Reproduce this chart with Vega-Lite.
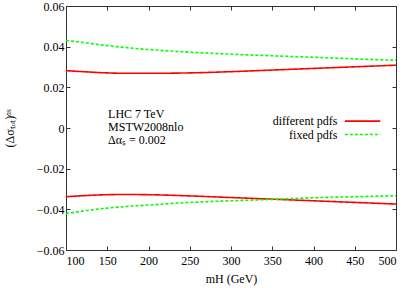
{
  "$schema": "https://vega.github.io/schema/vega-lite/v6.json",
  "width": 330,
  "height": 244,
  "autosize": {"type": "none"},
  "padding": {"left": 66, "top": 6, "right": 11, "bottom": 38},
  "background": "white",
  "config": {
    "font": "Liberation Serif",
    "view": {"stroke": "#333", "strokeWidth": 1},
    "axis": {
      "domainColor": "#333",
      "tickColor": "#333",
      "grid": false,
      "labelFont": "Liberation Serif",
      "titleFont": "Liberation Serif",
      "labelFontSize": 12,
      "titleFontSize": 12,
      "labelColor": "#000",
      "titleColor": "#000",
      "titleFontWeight": "normal",
      "tickSize": -4
    }
  },
  "datasets": {
    "curves": [
      {"curve": "red_up", "type": "different pdfs", "mH": 100, "v": 0.0282},
      {"curve": "red_up", "type": "different pdfs", "mH": 125, "v": 0.0276},
      {"curve": "red_up", "type": "different pdfs", "mH": 150, "v": 0.0271},
      {"curve": "red_up", "type": "different pdfs", "mH": 175, "v": 0.0269},
      {"curve": "red_up", "type": "different pdfs", "mH": 200, "v": 0.0269},
      {"curve": "red_up", "type": "different pdfs", "mH": 250, "v": 0.0271},
      {"curve": "red_up", "type": "different pdfs", "mH": 300, "v": 0.0277},
      {"curve": "red_up", "type": "different pdfs", "mH": 350, "v": 0.0285},
      {"curve": "red_up", "type": "different pdfs", "mH": 400, "v": 0.0293},
      {"curve": "red_up", "type": "different pdfs", "mH": 450, "v": 0.0301},
      {"curve": "red_up", "type": "different pdfs", "mH": 500, "v": 0.0309},
      {"curve": "green_up", "type": "fixed pdfs", "mH": 100, "v": 0.0431},
      {"curve": "green_up", "type": "fixed pdfs", "mH": 125, "v": 0.0418},
      {"curve": "green_up", "type": "fixed pdfs", "mH": 150, "v": 0.0405},
      {"curve": "green_up", "type": "fixed pdfs", "mH": 200, "v": 0.0386},
      {"curve": "green_up", "type": "fixed pdfs", "mH": 250, "v": 0.0373},
      {"curve": "green_up", "type": "fixed pdfs", "mH": 300, "v": 0.0363},
      {"curve": "green_up", "type": "fixed pdfs", "mH": 350, "v": 0.0355},
      {"curve": "green_up", "type": "fixed pdfs", "mH": 400, "v": 0.0348},
      {"curve": "green_up", "type": "fixed pdfs", "mH": 450, "v": 0.0340},
      {"curve": "green_up", "type": "fixed pdfs", "mH": 500, "v": 0.0333},
      {"curve": "red_lo", "type": "different pdfs", "mH": 100, "v": -0.0338},
      {"curve": "red_lo", "type": "different pdfs", "mH": 125, "v": -0.0332},
      {"curve": "red_lo", "type": "different pdfs", "mH": 150, "v": -0.0328},
      {"curve": "red_lo", "type": "different pdfs", "mH": 175, "v": -0.0327},
      {"curve": "red_lo", "type": "different pdfs", "mH": 200, "v": -0.0328},
      {"curve": "red_lo", "type": "different pdfs", "mH": 250, "v": -0.0334},
      {"curve": "red_lo", "type": "different pdfs", "mH": 300, "v": -0.0342},
      {"curve": "red_lo", "type": "different pdfs", "mH": 350, "v": -0.0350},
      {"curve": "red_lo", "type": "different pdfs", "mH": 400, "v": -0.0358},
      {"curve": "red_lo", "type": "different pdfs", "mH": 450, "v": -0.0366},
      {"curve": "red_lo", "type": "different pdfs", "mH": 500, "v": -0.0374},
      {"curve": "green_lo", "type": "fixed pdfs", "mH": 100, "v": -0.0421},
      {"curve": "green_lo", "type": "fixed pdfs", "mH": 125, "v": -0.0406},
      {"curve": "green_lo", "type": "fixed pdfs", "mH": 150, "v": -0.0394},
      {"curve": "green_lo", "type": "fixed pdfs", "mH": 200, "v": -0.0379},
      {"curve": "green_lo", "type": "fixed pdfs", "mH": 250, "v": -0.0366},
      {"curve": "green_lo", "type": "fixed pdfs", "mH": 300, "v": -0.0358},
      {"curve": "green_lo", "type": "fixed pdfs", "mH": 350, "v": -0.0351},
      {"curve": "green_lo", "type": "fixed pdfs", "mH": 400, "v": -0.0343},
      {"curve": "green_lo", "type": "fixed pdfs", "mH": 450, "v": -0.0338},
      {"curve": "green_lo", "type": "fixed pdfs", "mH": 500, "v": -0.0333}
    ],
    "legend": [
      {"type": "different pdfs", "x": 438, "x2": 481, "xt": 429, "y": 0.0034},
      {"type": "fixed pdfs", "x": 438, "x2": 481, "xt": 429, "y": -0.0032}
    ],
    "notes": [
      {"x": 151, "y": 0.0071, "text": "LHC 7 TeV"},
      {"x": 151, "y": 0.0005, "text": "MSTW2008nlo"},
      {"x": 151, "y": -0.0061, "text": "Δαₛ = 0.002"}
    ]
  },
  "layer": [
    {
      "data": {"name": "curves"},
      "mark": {"type": "line", "strokeWidth": 1.6, "interpolate": "monotone"},
      "encoding": {
        "x": {"field": "mH", "type": "quantitative", "scale": {"domain": [100, 500], "nice": false},
          "axis": {"title": "mH (GeV)", "values": [100, 150, 200, 250, 300, 350, 400, 450, 500], "labelPadding": 9, "titlePadding": 7}},
        "y": {"field": "v", "type": "quantitative", "scale": {"domain": [-0.06, 0.06], "nice": false},
          "axis": {"title": "(Δσₜₒₜ)ᵅˢ", "values": [-0.06, -0.04, -0.02, 0, 0.02, 0.04, 0.06], "format": ".2~f", "labelPadding": 6, "titlePadding": 20}},
        "color": {"field": "type", "type": "nominal", "scale": {"domain": ["different pdfs", "fixed pdfs"], "range": ["#ff0000", "#00ff00"]}, "legend": null},
        "strokeDash": {"field": "type", "type": "nominal", "scale": {"domain": ["different pdfs", "fixed pdfs"], "range": [[1, 0], [3, 2]]}, "legend": null},
        "detail": {"field": "curve"}
      }
    },
    {
      "data": {"name": "legend"},
      "mark": {"type": "rule", "strokeWidth": 1.6},
      "encoding": {
        "x": {"field": "x", "type": "quantitative", "axis": {"orient": "top", "labels": false, "title": null, "values": [100, 150, 200, 250, 300, 350, 400, 450, 500]}},
        "x2": {"field": "x2"},
        "y": {"field": "y", "type": "quantitative", "axis": {"orient": "right", "labels": false, "title": null, "values": [-0.06, -0.04, -0.02, 0, 0.02, 0.04, 0.06]}},
        "color": {"field": "type", "type": "nominal", "legend": null},
        "strokeDash": {"field": "type", "type": "nominal", "legend": null}
      }
    },
    {
      "data": {"name": "legend"},
      "mark": {"type": "text", "align": "right", "baseline": "middle", "fontSize": 12, "font": "Liberation Serif", "color": "#000"},
      "encoding": {
        "x": {"field": "xt", "type": "quantitative", "axis": null},
        "y": {"field": "y", "type": "quantitative", "axis": null},
        "text": {"field": "type"}
      }
    },
    {
      "data": {"name": "notes"},
      "mark": {"type": "text", "align": "left", "baseline": "middle", "fontSize": 12, "font": "Liberation Serif", "color": "#000"},
      "encoding": {
        "x": {"field": "x", "type": "quantitative", "axis": null},
        "y": {"field": "y", "type": "quantitative", "axis": null},
        "text": {"field": "text"}
      }
    }
  ],
  "resolve": {"axis": {"x": "independent", "y": "independent"}}
}
